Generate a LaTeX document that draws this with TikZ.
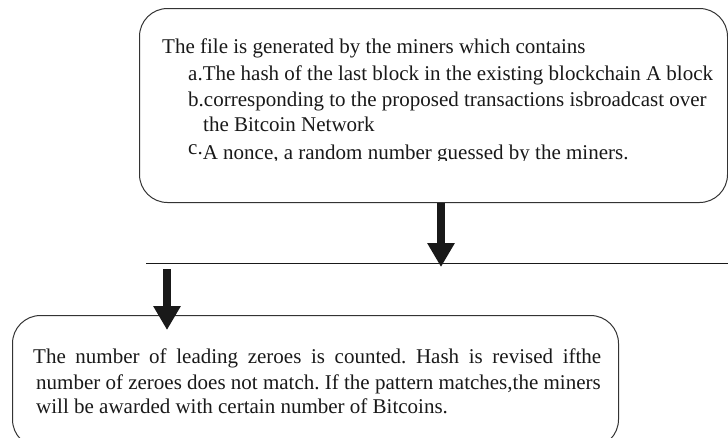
\documentclass[tikz,border=0pt]{standalone}
\usepackage{fontspec}
\setmainfont{Liberation Serif}
\usetikzlibrary{arrows.meta}
\frenchspacing
\begin{document}
\begin{tikzpicture}[x=1pt,y=-1pt,
  box/.style={draw=black!80, line width=1pt, rounded corners=28pt, anchor=north west, inner sep=0pt},
  txt/.style={anchor=base west, inner sep=0pt, font=\fontsize{21}{25}\selectfont\frenchspacing, text=black!90},
  bigarrow/.style={draw=black!90, line width=8pt, -{Triangle[width=26pt,length=24pt]}}]
\useasboundingbox (0,0) rectangle (728,437);
\clip (0,0) rectangle (728,437);
% boxes
\node[box, minimum width=588pt, minimum height=194pt] (topbox) at (139,8) {};
\node[box, minimum width=606pt, minimum height=132pt] (botbox) at (12,315) {};
% top text
\node[txt] (l1) at (162,53) {The file is generated by the miners which contains};
\node[txt] (la) at (188,80) {a.The hash of the last block in the existing blockchain A block};
\node[txt] (lb) at (188,106) {b.corresponding to the proposed transactions isbroadcast over};
\node[txt] (lb2) at (203,131) {the Bitcoin Network};
\begin{scope}
\clip (0,0) rectangle (728,160);
\node[txt] (lc) at (188,159) {\raisebox{5pt}{c.}A nonce, a random number guessed by the miners.};
\end{scope}
% bottom text
\node[txt] (m1) at (33,363) {\makebox[568pt][s]{The number of leading zeroes is counted. Hash is revised ifthe}};
\node[txt] (m2) at (36,389) {number of zeroes does not match. If the pattern matches,the miners};
\node[txt] (m3) at (36,413) {will be awarded with certain number of Bitcoins.};
% separator line
\coordinate (hlL) at (146,263);
\coordinate (hlR) at (728,263);
\draw[black!90, line width=1pt] (hlL) -- (hlR);
% arrows
\coordinate (tipA) at (441,267);
\draw[bigarrow] (topbox.south -| tipA) -- (tipA);
\coordinate (startB) at (167,269);
\coordinate (tipB) at (167,330);
\draw[bigarrow] (startB) -- (tipB);
\end{tikzpicture}
\end{document}
